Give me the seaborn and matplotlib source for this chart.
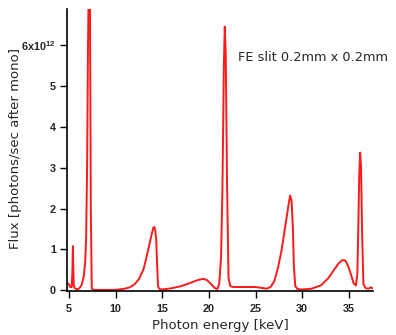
import matplotlib
matplotlib.use("Agg")
import matplotlib.pyplot as plt
import seaborn as sns
import pandas as pd

energy = [4.9, 5.0, 5.15, 5.3, 5.38, 5.43, 5.47, 5.52, 5.6, 5.8, 6.0, 6.2, 6.4, 6.6,
          6.75, 6.85, 6.95, 7.05, 7.15, 7.25, 7.35, 7.45, 7.6, 8.0, 9.0, 10.0, 11.0,
          11.5, 12.0, 12.5, 13.0, 13.3, 13.6, 13.9, 14.05, 14.15, 14.25, 14.35, 14.45,
          14.55, 14.7, 15.0, 16.0, 17.0, 18.0, 18.8, 19.4, 19.8, 20.2, 20.6, 20.9, 21.1,
          21.3, 21.45, 21.6, 21.7, 21.8, 21.95, 22.1, 22.3, 22.6, 23.0, 24.0, 25.0, 25.6,
          26.2, 26.6, 27.0, 27.4, 27.8, 28.2, 28.5, 28.7, 28.85, 29.0, 29.1, 29.25, 29.5,
          30.0, 31.0, 32.0, 32.8, 33.4, 33.9, 34.3, 34.6, 34.9, 35.2, 35.5, 35.75, 35.9,
          36.0, 36.1, 36.2, 36.3, 36.4, 36.55, 36.8, 37.1, 37.3, 37.6]
flux = [0.17, 0.15, 0.08, 0.08, 0.5, 1.08, 0.6, 0.12, 0.06, 0.03, 0.03, 0.07, 0.15, 0.35,
        0.7, 1.3, 3.0, 6.0, 8.0, 7.5, 2.0, 0.05, 0.01, 0.01, 0.01, 0.01, 0.04,
        0.07, 0.14, 0.27, 0.52, 0.8, 1.1, 1.4, 1.53, 1.55, 1.47, 1.25, 0.65,
        0.1, 0.03, 0.02, 0.05, 0.1, 0.18, 0.25, 0.28, 0.25, 0.16, 0.06, 0.03, 0.15,
        0.8, 2.5, 5.5, 6.45, 5.8, 2.5, 0.3, 0.1, 0.08, 0.08, 0.08, 0.08, 0.06,
        0.04, 0.08, 0.22, 0.55, 1.0, 1.6, 2.05, 2.32, 2.2, 1.5, 0.6, 0.1, 0.03,
        0.02, 0.04, 0.12, 0.3, 0.5, 0.66, 0.74, 0.73, 0.6, 0.4, 0.17, 0.12, 0.4,
        1.5, 2.8, 3.37, 3.0, 1.5, 0.15, 0.05, 0.04, 0.07, 0.05]

x_ticks = [5, 10, 15, 20, 25, 30, 35]
y_ticks = [0, 1, 2, 3, 4, 5, 6]
y_tick_labels = ["0", "1", "2", "3", "4", "5", r"6x10$^{12}$"]
annotation = "FE slit 0.2mm x 0.2mm"

sns.set_style("ticks")
plt.rcParams["font.family"] = ["DejaVu Sans"]
plt.rcParams["mathtext.default"] = "regular"

df = pd.DataFrame({"energy": energy, "flux": flux})

fig = plt.figure(figsize=(3.96, 3.35), dpi=100)
ax = fig.add_axes([0.169, 0.131, 0.773, 0.842])
sns.lineplot(data=df, x="energy", y="flux", ax=ax, color="#ff1a1a", linewidth=1.4, sort=False)

ax.set_xlim(4.79, 37.58)
ax.set_ylim(-0.02, 6.88)
tick_font = dict(family="Liberation Sans", weight="bold", size=7.8)
ax.set_xticks(x_ticks)
ax.set_xticklabels([str(t) for t in x_ticks], fontdict=tick_font)
ax.set_yticks(y_ticks)
ax.set_yticklabels(y_tick_labels, fontdict=tick_font)
ax.tick_params(axis="x", direction="out", length=5, width=1, color="black", pad=4)
ax.tick_params(axis="y", direction="out", length=5, width=1, color="black", pad=3)
for s in ["top", "right"]:
    ax.spines[s].set_visible(False)
for s in ["left", "bottom"]:
    ax.spines[s].set_color("black")
    ax.spines[s].set_linewidth(1.2)

ax.set_xlabel("Photon energy [keV]", fontsize=9.5)
ax.set_ylabel("Flux [photons/sec after mono]", fontsize=9.5)
ax.xaxis.set_label_coords(0.5, -0.10)
ax.yaxis.set_label_coords(-0.147, 0.507)
ax.text(23.1, 5.7, annotation, fontsize=9.3, va="center", ha="left")

fig.savefig("out.png", dpi=100)
